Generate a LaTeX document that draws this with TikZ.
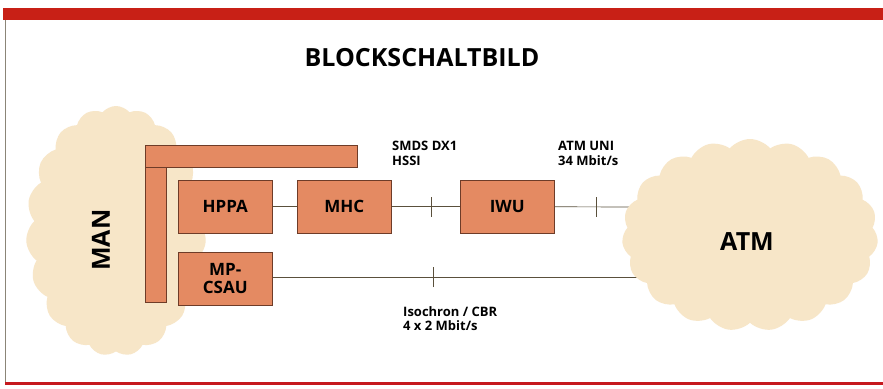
\documentclass[tikz,border=0pt]{standalone}
\usepackage{fontspec}
\setmainfont{Open Sans}
\usetikzlibrary{shapes.symbols}
\definecolor{boxfill}{RGB}{228,138,98}
\definecolor{boxline}{RGB}{110,60,40}
\definecolor{cloudfill}{RGB}{247,230,200}
\definecolor{bandred}{RGB}{200,32,22}
\definecolor{linecol}{RGB}{90,80,60}
\tikzset{
  blockbox/.style={draw=boxline, fill=boxfill, line width=0.6pt, inner sep=0pt, anchor=north west, font=\bfseries\fontsize{17}{18}\selectfont, align=center},
  netcloud/.style={cloud, cloud puffs=19, cloud puff arc=100, cloud ignores aspect, fill=cloudfill, draw=none, inner sep=0pt},
  wire/.style={draw=linecol, line width=0.7pt},
  lbl/.style={font=\bfseries\fontsize{13}{14.5}\selectfont, align=left, anchor=north west, inner sep=0pt}
}
\begin{document}
\begin{tikzpicture}[x=1pt,y=-1pt]
\useasboundingbox (0,0) rectangle (883,388);
\fill[white] (0,0) rectangle (883,388);
% frame
\fill[bandred] (3,8) rectangle (883,20);
\draw[linecol!70, line width=0.8pt] (5,20) -- (5,383);
\fill[bandred!80!purple] (5,382) rectangle (883,385);
% title
\node[font=\bfseries\fontsize{25}{28}\selectfont] (title) at (422,58) {BLOCKSCHALTBILD};
% MAN cloud
\node[netcloud, minimum width=180pt, minimum height=250pt] (man) at (116,231) {};
\node[rotate=90, font=\bfseries\fontsize{25}{28}\selectfont] (mantext) at (101,240) {MAN};
% bus bars
\node[blockbox, minimum width=212pt, minimum height=22pt] (hbar) at (145,145) {};
\node[blockbox, minimum width=21pt, minimum height=135pt] (vbar) at (145,167) {};
% boxes
\node[blockbox, minimum width=94pt, minimum height=53pt] (hppa) at (178,180) {HPPA};
\node[blockbox, minimum width=94pt, minimum height=53pt] (mhc) at (297,180) {MHC};
\node[blockbox, minimum width=94pt, minimum height=53pt] (iwu) at (460,180) {IWU};
\node[blockbox, minimum width=94pt, minimum height=53pt] (csau) at (178,252) {MP-\\CSAU};
% end points at ATM cloud
\coordinate (atmA) at (650,207);
\coordinate (atmB) at (650,277);
% wires
\draw[wire] (hppa) -- (mhc);
\draw[wire] (mhc) -- (iwu) coordinate[pos=0.58] (t1);
\draw[wire] (iwu.east) -- (atmA) coordinate[pos=0.44] (t2);
\draw[wire] (csau.east |- atmB) -- (atmB) coordinate[pos=0.425] (t3);
\draw[wire] ([yshift=-10pt]t1) -- ([yshift=10pt]t1);
\draw[wire] ([yshift=-10pt]t2) -- ([yshift=10pt]t2);
\draw[wire] ([yshift=-10pt]t3) -- ([yshift=10pt]t3);
% ATM cloud
\node[netcloud, minimum width=256pt, minimum height=192pt] (atm) at (750,235) {};
\node[font=\bfseries\fontsize{25}{28}\selectfont] (atmtext) at (747,242) {ATM};
% labels
\node[lbl] (l1) at (392,141) {SMDS DX1\\HSSI};
\node[lbl] (l2) at (558,141) {ATM UNI\\34 Mbit/s};
\node[lbl] (l3) at (403,306) {Isochron / CBR\\4 x 2 Mbit/s};
\end{tikzpicture}
\end{document}
